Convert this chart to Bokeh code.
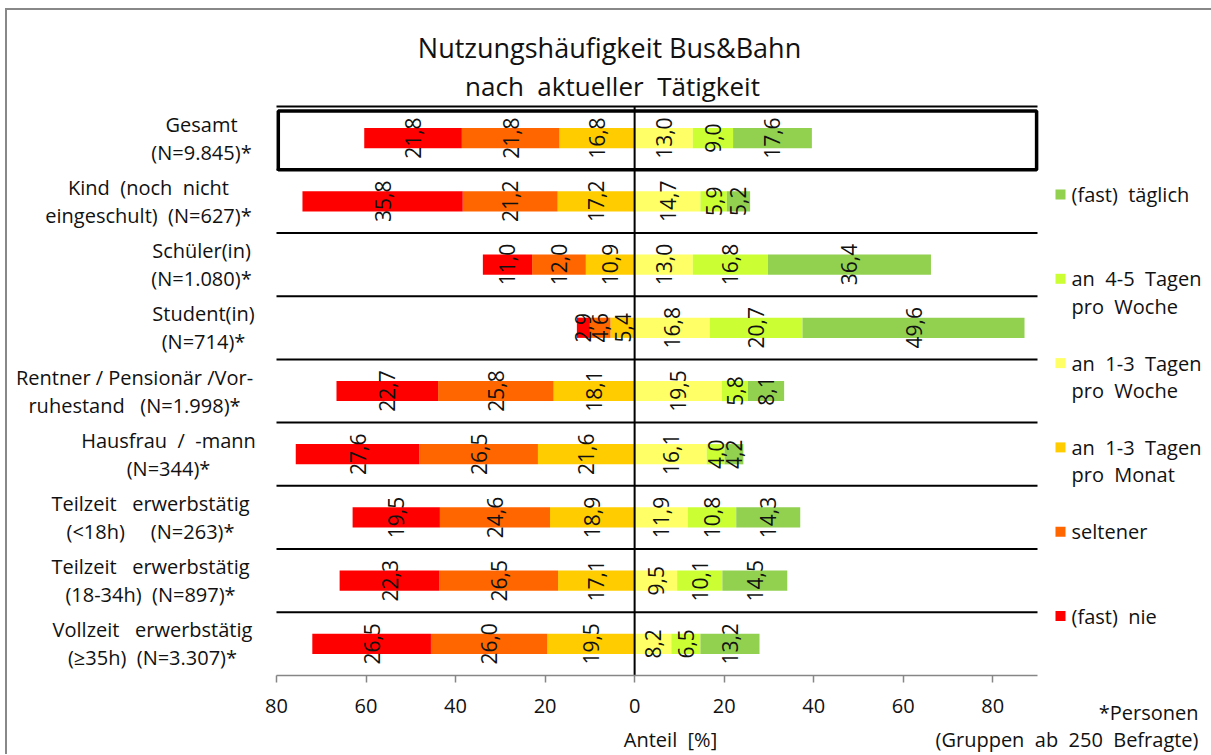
import math
from bokeh.plotting import figure
from bokeh.layouts import column
from bokeh.models import ColumnDataSource, Label, FixedTicker, Range1d, BoxAnnotation
from bokeh.core.properties import value
from bokeh.embed import file_html
from bokeh.resources import INLINE

S = "\u00a0"  # non-collapsing space (reference uses distributed, wide spacing)

# ---------------- data ----------------
categories = [
    ["Gesamt", "(N=9.845)*"],
    [f"Kind{S*2}(noch{S*2}nicht", f"eingeschult){S*2}(N=627)*"],
    ["Schüler(in)", "(N=1.080)*"],
    ["Student(in)", "(N=714)*"],
    [f"Rentner{S}/{S}Pensionär{S}/Vor-", f"ruhestand{S*3}(N=1.998)*"],
    [f"Hausfrau{S*2}/{S*2}-mann", "(N=344)*"],
    [f"Teilzeit{S*3}erwerbstätig", f"(<18h){S*5}(N=263)*"],
    [f"Teilzeit{S*3}erwerbstätig", f"(18-34h){S*2}(N=897)*"],
    [f"Vollzeit{S*3}erwerbstätig", f"(≥35h){S*2}(N=3.307)*"],
]
nie      = [21.8, 35.8, 11.0,  2.9, 22.7, 27.6, 19.5, 22.3, 26.5]
seltener = [21.8, 21.2, 12.0,  4.6, 25.8, 26.5, 24.6, 26.5, 26.0]
monat    = [16.8, 17.2, 10.9,  5.4, 18.1, 21.6, 18.9, 17.1, 19.5]
woche    = [13.0, 14.7, 13.0, 16.8, 19.5, 16.1, 11.9,  9.5,  8.2]
tage45   = [ 9.0,  5.9, 16.8, 20.7,  5.8,  4.0, 10.8, 10.1,  6.5]
taeglich = [17.6,  5.2, 36.4, 49.6,  8.1,  4.2, 14.3, 14.5, 13.2]

tick_values = [-80, -60, -40, -20, 0, 20, 40, 60, 80]
tick_labels = ["80", "60", "40", "20", "0", "20", "40", "60", "80"]

legend_labels = [
    [f"(fast){S*2}täglich"],
    [f"an{S*2}4-5{S*2}Tagen", f"pro{S*2}Woche"],
    [f"an{S*2}1-3{S*2}Tagen", f"pro{S*2}Woche"],
    [f"an{S*2}1-3{S*2}Tagen", f"pro{S*2}Monat"],
    ["seltener"],
    [f"(fast){S*2}nie"],
]
title_text = "Nutzungshäufigkeit Bus&Bahn"
subtitle_text = f"nach{S*2}aktueller{S*2}Tätigkeit"
axis_title = f"Anteil{S*2}[%]"
footnote = ["*Personen", f"(Gruppen{S*2}ab{S*2}250{S*2}Befragte)"]

# ---------------- style / layout ----------------
C_NIE, C_SEL, C_MON = "#FF0000", "#FF6600", "#FFCC00"
C_WOC, C_45, C_TAG = "#FFFF66", "#CCFF33", "#92D050"
legend_colors = [C_TAG, C_45, C_WOC, C_MON, C_SEL, C_NIE]
FONT = "Open Sans"
TXT = "#111111"

# page geometry (image pixels)
CX0, CY0 = 7, 10            # canvas origin on page
W, H = 1204, 744
PL, PR = 276, 1037          # where x=-80 and x=90 sit
PT, PB = 106, 675           # where row 0 top and row 9 bottom sit
SX = (PR - PL) / 170.0
SY = (PB - PT) / 9.0
x0 = -80 - (PL - CX0) / SX
x1 = 90 + (CX0 + W - PR) / SX
y_top = -(PT - CY0) / SY

def dx(X):
    return -80 + (X - PL) / SX

def dy(Y):
    return (Y - PT) / SY

p = figure(width=W, height=H, x_range=Range1d(x0, x1), y_range=Range1d(9, y_top),
           output_backend="svg", toolbar_location=None, y_axis_location=None,
           min_border_left=0, min_border_right=0, min_border_top=0,
           min_border_bottom=(CY0 + H) - PB)
p.outline_line_color = None
p.xgrid.visible = False
p.ygrid.visible = False
p.background_fill_color = None
p.border_fill_color = None

n = len(nie)
ys = [i + 0.5 for i in range(n)]

# stacked segments
l_mon = [-m for m in monat]
l_sel = [a - s for a, s in zip(l_mon, seltener)]
l_nie = [a - s for a, s in zip(l_sel, nie)]
r_woc = list(woche)
r_45 = [a + b for a, b in zip(r_woc, tage45)]
r_tag = [a + b for a, b in zip(r_45, taeglich)]
segs = [
    ([0] * n, l_mon, monat, C_MON),
    (l_mon, l_sel, seltener, C_SEL),
    (l_sel, l_nie, nie, C_NIE),
    ([0] * n, r_woc, woche, C_WOC),
    (r_woc, r_45, tage45, C_45),
    (r_45, r_tag, taeglich, C_TAG),
]

lx, ly, lt = [], [], []
for a, b, vals, col in segs:
    src = ColumnDataSource(dict(y=ys, left=[min(u, v) for u, v in zip(a, b)],
                                right=[max(u, v) for u, v in zip(a, b)]))
    p.hbar(y="y", left="left", right="right", height=0.32, source=src,
           fill_color=col, line_color=None)
    for i in range(n):
        lx.append((a[i] + b[i]) / 2)
        ly.append(ys[i])
        lt.append(f"{vals[i]:.1f}".replace(".", ","))

p.text(x=lx, y=ly, text=lt, angle=math.pi / 2, text_align="center", text_baseline="middle",
       text_font=value(FONT), text_font_size="21px", text_color=TXT)

# row separators, zero line, highlight box
p.segment(x0=[-80] * n, x1=[90] * n, y0=list(range(n)), y1=list(range(n)),
          line_color="#000000", line_width=2)
p.segment(x0=[0], x1=[0], y0=[0], y1=[9], line_color="#000000", line_width=2)
p.add_layout(BoxAnnotation(left=-79.6, right=89.8, top=0.07, bottom=1.0,
                           fill_color=None, fill_alpha=0,
                           line_color="#000000", line_alpha=1.0, line_width=3.5))

# x axis
ax = p.xaxis[0]
ax.bounds = (-80, 90)
ax.ticker = FixedTicker(ticks=tick_values)
ax.major_label_overrides = {t: s for t, s in zip(tick_values, tick_labels)}
ax.axis_line_color = "#868686"
ax.axis_line_width = 1.5
ax.major_tick_line_color = "#868686"
ax.major_tick_line_width = 1.5
ax.major_tick_in = 0
ax.major_tick_out = 7
ax.minor_tick_line_color = None
ax.major_label_text_font = FONT
ax.major_label_text_font_size = "20px"
ax.major_label_text_color = TXT
ax.major_label_standoff = 16

def add_label(fig, x, y, text, size="20px", align="center", color=TXT, font=FONT):
    fig.add_layout(Label(x=x, y=y, text=text, text_align=align, text_baseline="middle",
                         text_font=font, text_font_size=size, text_color=color))

# category labels (lines centred within block, block right-aligned near the plot)
cat_centers = [201, 148, 201, 203, 134, 168, 150, 150, 152]
half = 14 / SY
for i, lines in enumerate(categories):
    offs = [-half, half] if len(lines) == 2 else [0]
    for ln, o in zip(lines, offs):
        add_label(p, dx(cat_centers[i]), ys[i] + o, ln)

# legend
leg_y0, leg_dy, leg_lh = 194, 84.3, 27.5
sq_x, sq_y = [], []
for j, lines in enumerate(legend_labels):
    yy = leg_y0 + j * leg_dy
    sq_x.append(dx(1060))
    sq_y.append(dy(yy))
    for k, ln in enumerate(lines):
        add_label(p, dx(1071), dy(yy + k * leg_lh), ln, align="left")
p.rect(x=sq_x, y=sq_y, width=10, height=10, width_units="screen", height_units="screen",
       fill_color=legend_colors, line_color=None)

# titles
add_label(p, dx(609), dy(47), title_text, size="27px")
add_label(p, dx(612), dy(85), subtitle_text, size="26px")

# footer strip (overlaid on the bottom of the main figure)
FH = 62
f = figure(width=W, height=FH, x_range=Range1d(0, W), y_range=Range1d(FH, 0),
           output_backend="svg", toolbar_location=None, x_axis_location=None,
           y_axis_location=None, min_border=0, min_border_left=0, min_border_right=0,
           min_border_top=0, min_border_bottom=0,
           styles={"margin-top": f"-{FH}px"})
f.outline_line_color = None
f.xgrid.visible = False
f.ygrid.visible = False
f.background_fill_color = None
f.border_fill_color = None
FY0 = CY0 + H - FH
add_label(f, 670 - CX0, 739 - FY0, axis_title)
add_label(f, 1198 - CX0, 712 - FY0, footnote[0], align="right")
add_label(f, 1198 - CX0, 739 - FY0, footnote[1], align="right")

layout = column(p, f, styles={"margin-left": "5px", "margin-top": "8px",
                              "border-left": "2px solid #888888",
                              "border-top": "2px solid #888888",
                              "border-right": "none", "border-bottom": "none"})

open("out.html", "w").write(file_html(layout, INLINE))
